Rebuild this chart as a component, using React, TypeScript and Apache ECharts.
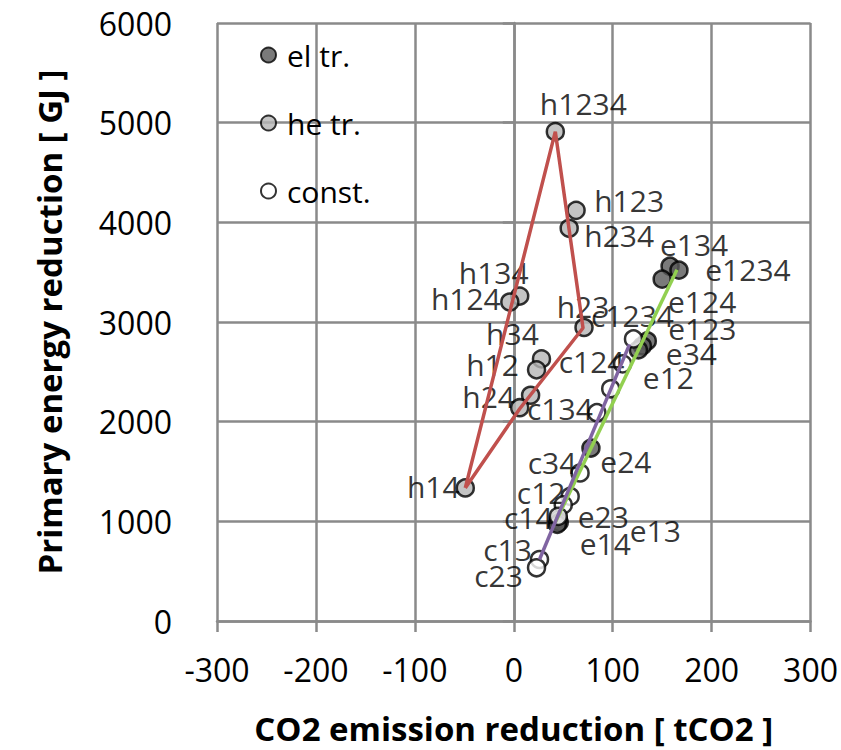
import React, { useEffect, useRef } from "react";
import * as echarts from "echarts";

// ---- data ----
const elNames = ["e134", "e1234", "e124", "e123", "e34", "e12", "e24", "e23", "e13", "e14"];
const elX = [158, 167, 150, 135, 130, 126, 78, 45, 46, 44];
const elY = [3560, 3520, 3430, 2810, 2760, 2720, 1735, 1020, 990, 970];

const heNames = ["h1234", "h123", "h234", "h134", "h124", "h23", "h34", "h12", "h24", "h13", "h14"];
const heX = [42, 63, 56, 6, -4, 71, 28, 23, 17, 6, -49];
const heY = [4910, 4120, 3940, 3260, 3200, 2945, 2630, 2520, 2265, 2140, 1335];

const coNames = ["c1234", "c124", "c24", "c134", "c34", "c12", "c123", "c14", "c13", "c23"];
const coX = [121, 110, 98, 84, 67, 57, 50, 45, 26, 23];
const coY = [2830, 2580, 2330, 2090, 1485, 1250, 1165, 1050, 617, 534];

const unlabeled = ["h13", "c24", "c123"];

// frontier lines
const redX = [-49, 42, 70, 6, -49];
const redY = [1335, 4910, 2940, 2130, 1335];
const greenX = [42, 165];
const greenY = [990, 3525];
const purpleX = [26, 117];
const purpleY = [617, 2775];

const xTicks = { min: -300, max: 300, interval: 100 };
const yTicks = { min: 0, max: 6000, interval: 1000 };

// label offsets (px) relative to the marker centre
const labelOffsets: Record<string, [number, number]> = {
  h1234: [28, -28], h123: [53, -10], h234: [50, 7], h134: [-26, -24], h124: [-44, -4],
  h23: [-1, -21], h34: [-29, -25], h12: [-44, -5], h24: [-42, 1], h14: [-32, -1],
  e134: [24, -22], e1234: [69, -1], e124: [40, 22], e123: [55, -12], e34: [49, 8],
  e12: [30, 28], e24: [35, 13], e23: [45, -3], e13: [96, 8], e14: [48, 19],
  c1234: [-1, -23], c124: [-31, -2], c134: [-37, -4], c34: [-28, -10], c12: [-29, -4],
  c14: [-30, 1], c13: [-32, -10], c23: [-38, 8],
};

const FONT = "'Open Sans', 'Noto Sans', sans-serif";

function buildPoints(names: string[], xs: number[], ys: number[]) {
  return names.map((n, i) => ({
    name: n,
    value: [xs[i], ys[i]],
    label: unlabeled.includes(n)
      ? { show: false }
      : { show: true, offset: labelOffsets[n] || [0, 0] },
  }));
}

function pairs(xs: number[], ys: number[]) {
  return xs.map((x, i) => [x, ys[i]]);
}

export default function App() {
  const ref = useRef<HTMLDivElement>(null);
  useEffect(() => {
    if (!ref.current) return;
    const chart = echarts.init(ref.current, undefined, { renderer: "svg" });
    const gridColor = "#8a8a8a";
    const scatterBase = {
      type: "scatter",
      symbol: "circle",
      symbolSize: 17,
      z: 2,
      label: {
        show: true,
        position: "inside",
        formatter: "{b}",
        color: "#000",
        fontSize: 30,
        fontFamily: FONT,
      },
      emphasis: { disabled: true },
    };
    const lineBase = {
      type: "line",
      symbol: "none",
      z: 3,
      silent: true,
      emphasis: { disabled: true },
    };
    chart.setOption({
      animation: false,
      backgroundColor: "#fff",
      textStyle: { fontFamily: FONT },
      grid: { left: 217, top: 23, width: 596, height: 600.5, containLabel: false },
      legend: {
        orient: "vertical",
        left: 255,
        top: 32,
        itemWidth: 15,
        itemHeight: 15,
        itemGap: 32,
        data: ["el tr.", "he tr.", "const."],
        textStyle: { fontSize: 30, fontFamily: FONT, color: "#000", lineHeight: 36, padding: [0, 0, 0, 6] },
        selectedMode: false,
      },
      xAxis: {
        type: "value",
        min: xTicks.min,
        max: xTicks.max,
        interval: xTicks.interval,
        name: "CO2 emission reduction [ tCO2 ]",
        nameLocation: "middle",
        nameGap: 91,
        nameTextStyle: { fontSize: 33, fontWeight: "bold", color: "#000", fontFamily: FONT },
        axisLine: { show: true, onZero: false, lineStyle: { color: gridColor, width: 2.5 } },
        axisTick: { show: true, length: 11, lineStyle: { color: gridColor, width: 2.5 } },
        axisLabel: { fontSize: 32, color: "#000", margin: 32, fontFamily: FONT, formatter: (v: number) => String(v) },
        splitLine: { show: true, lineStyle: { color: gridColor, width: 2.5 } },
      },
      yAxis: {
        type: "value",
        min: yTicks.min,
        max: yTicks.max,
        interval: yTicks.interval,
        name: "Primary energy reduction [ GJ ]",
        nameLocation: "middle",
        nameGap: 151,
        nameTextStyle: { fontSize: 33, fontWeight: "bold", color: "#000", fontFamily: FONT },
        axisLine: { show: true, lineStyle: { color: gridColor, width: 2.5 } },
        axisTick: { show: true, length: 11, lineStyle: { color: gridColor, width: 2.5 } },
        axisLabel: { fontSize: 32, color: "#000", margin: 45, fontFamily: FONT, formatter: (v: number) => String(v) },
        splitLine: { show: true, lineStyle: { color: gridColor, width: 2.5 } },
      },
      series: [
        {
          ...scatterBase,
          name: "el tr.",
          itemStyle: { color: "#595959", borderColor: "#000", borderWidth: 2.5 },
          data: buildPoints(elNames, elX, elY),
        },
        {
          ...scatterBase,
          name: "he tr.",
          itemStyle: { color: "#b5b5b5", borderColor: "#000", borderWidth: 2.5 },
          data: buildPoints(heNames, heX, heY),
        },
        {
          ...scatterBase,
          name: "const.",
          itemStyle: { color: "#ffffff", borderColor: "#000", borderWidth: 2.5 },
          data: buildPoints(coNames, coX, coY),
        },
        {
          ...lineBase,
          name: "red",
          lineStyle: { color: "#c0504d", width: 3.5 },
          data: pairs(redX, redY),
        },
        {
          ...lineBase,
          name: "green",
          lineStyle: { color: "#92d050", width: 3.5 },
          data: pairs(greenX, greenY),
        },
        {
          ...lineBase,
          name: "purple",
          lineStyle: { color: "#8064a2", width: 3.5 },
          data: pairs(purpleX, purpleY),
        },
      ],
    });
    return () => chart.dispose();
  }, []);
  return (
    <div
      ref={ref}
      style={{ position: "fixed", left: 0, top: 0, width: 841, height: 750, background: "#fff" }}
    />
  );
}
